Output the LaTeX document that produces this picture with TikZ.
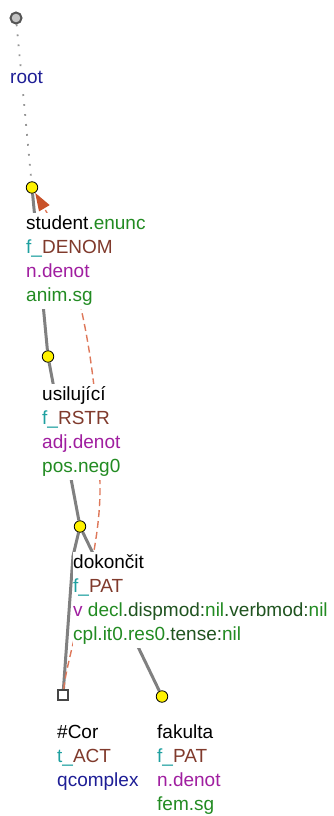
\documentclass[tikz,border=0pt]{standalone}
\usepackage{fontspec}
\setmainfont{Liberation Sans}
\usetikzlibrary{arrows.meta}
\definecolor{gv}{RGB}{34,139,34}
\definecolor{ga}{RGB}{32,84,32}
\definecolor{tl}{RGB}{30,160,160}
\definecolor{br}{RGB}{128,58,44}
\definecolor{pu}{RGB}{160,30,160}
\definecolor{db}{RGB}{30,30,150}
\definecolor{edgegray}{RGB}{128,128,128}
\definecolor{dotgray}{RGB}{150,150,150}
\definecolor{corline}{RGB}{222,120,90}
\definecolor{corarrow}{RGB}{200,82,42}
\pgfdeclarelayer{bg}
\pgfsetlayers{bg,main}
\begin{document}
\begin{tikzpicture}[x=1pt,y=-1pt,
  lab/.style={anchor=base west, inner sep=0pt, fill=white, text height=16pt, text depth=8pt,
    font=\fontsize{19}{24}\selectfont},
  tnode/.style={circle, draw=black, fill=yellow, line width=0.8pt, minimum size=11.5pt, inner sep=0pt},
  rootnode/.style={circle, draw={rgb,255:red,85;green,85;blue,85}, fill={rgb,255:red,195;green,195;blue,195}, line width=2pt, minimum size=11pt, inner sep=0pt},
  cornode/.style={rectangle, draw={rgb,255:red,70;green,70;blue,70}, fill=white, line width=1.3pt, minimum size=10pt, inner sep=0pt},
  tedge/.style={draw=edgegray, line width=3pt},
  rootedge/.style={draw=dotgray, line width=1.8pt, dash pattern=on 1.8pt off 8.2pt},
  coref/.style={draw=corline, line width=1.4pt, dash pattern=on 7pt off 4pt,
    -{Triangle[length=18pt,width=12pt,color=corarrow]}}
]
\useasboundingbox (0,0) rectangle (334,816);

% tree nodes
\node[rootnode] (root) at (16,18) {};
\node[tnode] (student) at (32,187.5) {};
\node[tnode] (usil) at (48,356.5) {};
\node[tnode] (dok) at (80,526.5) {};
\node[cornode] (cor) at (63,695) {};
\node[tnode] (fak) at (162,696.5) {};
\coordinate (dokbend) at (73,556);
\coordinate (corbend) at (100,490);

% connectors
\begin{pgfonlayer}{bg}
\draw[rootedge] (root) -- (student);
\draw[tedge] (student) -- (usil);
\draw[tedge] (usil) -- (dok);
\draw[tedge] (dok) -- (fak);
\draw[tedge] (dok) -- (dokbend) -- (cor);
\draw[coref] (cor) .. controls (68,650) and (100,560) .. (corbend)
  .. controls (100,420) and (90,285) .. (student);
\end{pgfonlayer}

% labels
\node[lab] (rootlab) at (10,83) {\textcolor{db}{root}};

\node[lab] (s1) at (26,229) {student\textcolor{gv}{.enunc}};
\node[lab] (s2) at (26,253) {\textcolor{tl}{f\_}\textcolor{br}{DENOM}};
\node[lab] (s3) at (26,277) {\textcolor{pu}{n.denot}};
\node[lab] (s4) at (26,301) {\textcolor{gv}{anim.sg}};

\node[lab] (u1) at (42,400) {usilující};
\node[lab] (u2) at (42,424) {\textcolor{tl}{f\_}\textcolor{br}{RSTR}};
\node[lab] (u3) at (42,448) {\textcolor{pu}{adj.denot}};
\node[lab] (u4) at (42,472) {\textcolor{gv}{pos.neg0}};

\node[lab] (d1) at (73,568) {dokončit};
\node[lab] (d2) at (73,592) {\textcolor{tl}{f\_}\textcolor{br}{PAT}};
\node[lab] (d3) at (73,616) {\textcolor{pu}{v} \textcolor{gv}{decl}\textcolor{ga}{.dispmod:}\textcolor{gv}{nil}\textcolor{ga}{.verbmod:}\textcolor{gv}{nil}};
\node[lab] (d4) at (73,640) {\textcolor{gv}{cpl.it0.res0}\textcolor{ga}{.tense:}\textcolor{gv}{nil}};

\node[lab] (c1) at (57,738) {\#Cor};
\node[lab] (c2) at (57,762) {\textcolor{tl}{t\_}\textcolor{br}{ACT}};
\node[lab] (c3) at (57,786) {\textcolor{db}{qcomplex}};

\node[lab] (f1) at (157,738) {fakulta};
\node[lab] (f2) at (157,762) {\textcolor{tl}{f\_}\textcolor{br}{PAT}};
\node[lab] (f3) at (157,786) {\textcolor{pu}{n.denot}};
\node[lab] (f4) at (157,810) {\textcolor{gv}{fem.sg}};
\end{tikzpicture}
\end{document}
